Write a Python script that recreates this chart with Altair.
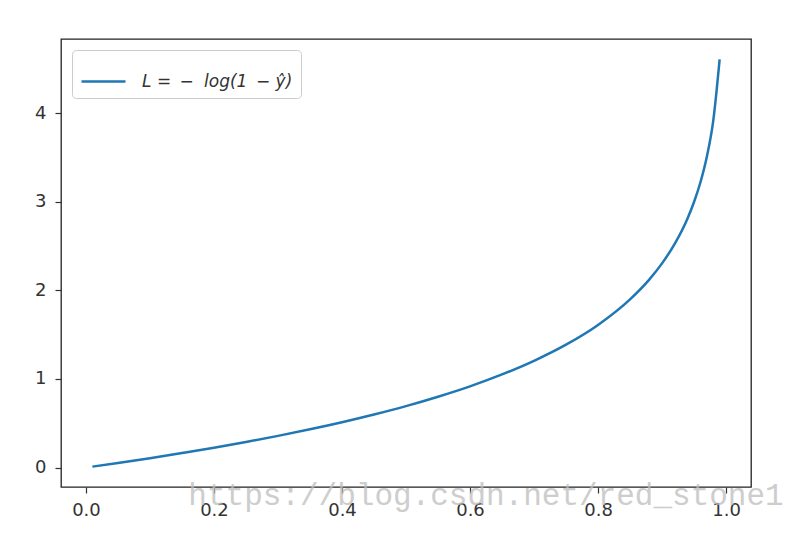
import altair as alt
import pandas as pd

# values
y_hat = [0.01, 0.05, 0.10, 0.15, 0.20, 0.25, 0.30, 0.35, 0.40, 0.45, 0.50,
         0.55, 0.60, 0.65, 0.70, 0.75, 0.80, 0.85, 0.88, 0.90, 0.92, 0.94,
         0.95, 0.96, 0.97, 0.98, 0.99]
loss = [0.01, 0.05, 0.105, 0.163, 0.223, 0.288, 0.357, 0.431, 0.511, 0.598,
        0.693, 0.799, 0.916, 1.050, 1.204, 1.386, 1.609, 1.897, 2.120, 2.303,
        2.526, 2.813, 2.996, 3.219, 3.507, 3.912, 4.605]
series_label = "L =\u2002−\u2002\u200alog(1\u2002− ŷ)"
x_ticks = [0.0, 0.2, 0.4, 0.6, 0.8, 1.0]
y_ticks = [0, 1, 2, 3, 4]
watermark = "https://blog.csdn.net/red_stone1"

df = pd.DataFrame({"y_hat": y_hat, "loss": loss, "series": series_label})

line = alt.Chart(df).mark_line(strokeWidth=2.5, interpolate="monotone").encode(
    x=alt.X("y_hat:Q",
            scale=alt.Scale(domain=[-0.039, 1.039], nice=False, zero=False),
            axis=alt.Axis(values=x_ticks, format=".1f", title=None, labelPadding=8)),
    y=alt.Y("loss:Q",
            scale=alt.Scale(domain=[-0.22, 4.835], nice=False, zero=False),
            axis=alt.Axis(values=y_ticks, format="d", title=None, labelPadding=9)),
    color=alt.Color("series:N",
                    scale=alt.Scale(domain=[series_label], range=["#1f77b4"]),
                    legend=alt.Legend(title=None, orient="top-left")),
)

wm = alt.Chart(pd.DataFrame({"t": [watermark]})).mark_text(
    font="Liberation Mono", fontSize=31, color="#bdbdbd", opacity=0.75,
    align="center", baseline="alphabetic",
).encode(text="t:N", x=alt.value(425), y=alt.value(466))

chart = alt.layer(line, wm).properties(
    width=690, height=448,
    autosize=alt.AutoSizeParams(type="none"),
    padding={"left": 53, "top": 31, "right": 37, "bottom": 40},
).configure_view(
    stroke="#222222", strokeWidth=1.3
).configure_axis(
    domain=False, grid=False, ticks=True, tickSize=6, tickWidth=1.2,
    tickColor="#333333", labelFont="DejaVu Sans", labelFontSize=18,
    labelColor="#333333",
).configure_legend(
    offset=11, padding=8, strokeColor="#cccccc",
    fillColor="rgba(255,255,255,0.8)", cornerRadius=4,
    symbolType="stroke", symbolSize=1936, symbolStrokeWidth=2.5,
    labelFont="DejaVu Sans", labelFontSize=17, labelFontStyle="italic",
    labelColor="#333333", labelOffset=15,
)

chart.save("out.html", embed_options={"renderer": "svg", "actions": False})
